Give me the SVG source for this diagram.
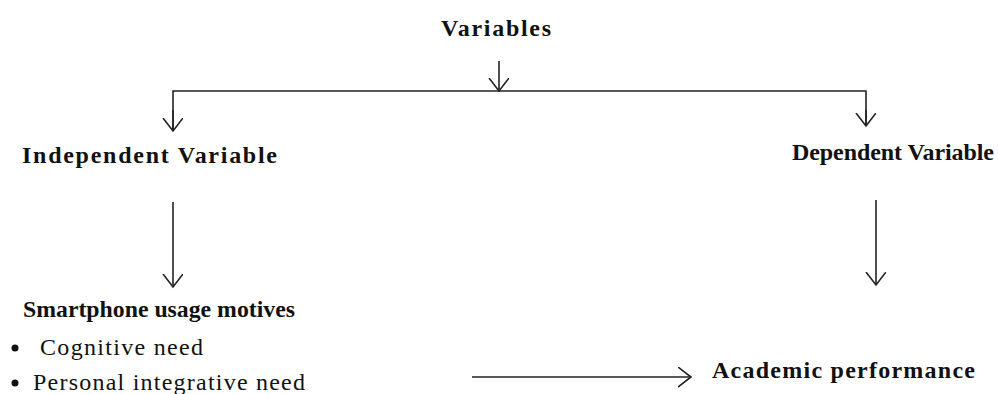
<svg xmlns="http://www.w3.org/2000/svg" width="998" height="394" viewBox="0 0 998 394">
<style>
.b{font-family:"Liberation Serif","Times New Roman",serif;font-weight:bold;font-size:24px;fill:#111}
.n{font-family:"Liberation Serif","Times New Roman",serif;font-size:24px;fill:#111}
.c{stroke:#222;stroke-width:1.6;fill:none}
</style>
<defs>
<marker id="ah" markerWidth="20" markerHeight="22" refX="13" refY="10" orient="auto" markerUnits="userSpaceOnUse">
<polyline points="0,0 13,10 0,20" fill="none" stroke="#222" stroke-width="1.6"/>
</marker>
</defs>
<rect width="998" height="394" fill="#fff"/>
<g id="connectors">
<line class="c" x1="499" y1="61" x2="499" y2="91" marker-end="url(#ah)"/>
<polyline class="c" points="173,131 173,91 866,91 866,126"/>
<line class="c" x1="173" y1="110" x2="173" y2="131" marker-end="url(#ah)"/>
<line class="c" x1="866" y1="110" x2="866" y2="126" marker-end="url(#ah)"/>
<line class="c" x1="173" y1="202" x2="173" y2="287" marker-end="url(#ah)"/>
<line class="c" x1="876" y1="200" x2="876" y2="285" marker-end="url(#ah)"/>
<line class="c" x1="472" y1="377" x2="691" y2="377" marker-end="url(#ah)"/>
</g>
<g id="variables"><text class="b" x="441" y="36" textLength="110" lengthAdjust="spacing">Variables</text></g>
<g id="independent"><text class="b" x="22" y="163" textLength="255" lengthAdjust="spacing">Independent Variable</text></g>
<g id="dependent"><text class="b" x="792" y="160" textLength="202" lengthAdjust="spacing">Dependent Variable</text></g>
<g id="motives">
<text class="b" x="23" y="317" textLength="272" lengthAdjust="spacingAndGlyphs">Smartphone usage motives</text>
<circle cx="15" cy="348" r="3.5" fill="#111"/>
<text class="n" x="40" y="355" textLength="163" lengthAdjust="spacing">Cognitive need</text>
<circle cx="15" cy="383" r="3.5" fill="#111"/>
<text class="n" x="33" y="390" textLength="272" lengthAdjust="spacing">Personal integrative need</text>
</g>
<g id="academic"><text class="b" x="712" y="378" textLength="263" lengthAdjust="spacing">Academic performance</text></g>
</svg>
